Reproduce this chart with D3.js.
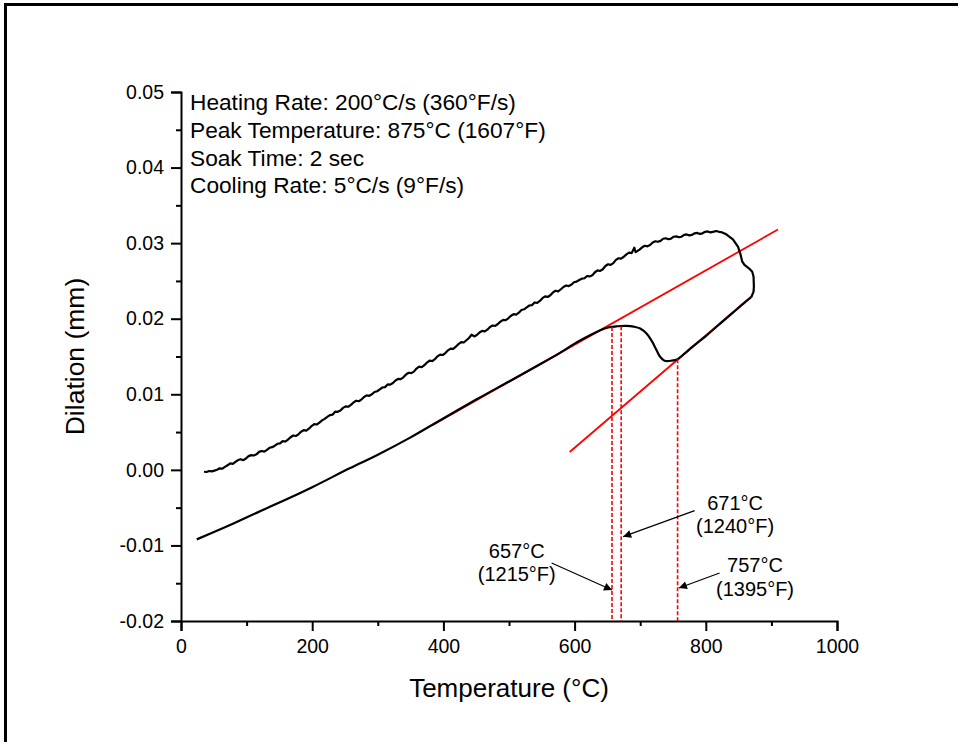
<!DOCTYPE html>
<html>
<head>
<meta charset="utf-8">
<script src="https://cdn.jsdelivr.net/npm/d3@7"></script>
<style>
  html, body { margin: 0; padding: 0; background: #fff; }
  svg { display: block; font-family: "Liberation Sans", Arial, sans-serif; }
</style>
</head>
<body>
<svg id="chart" width="962" height="742"></svg>
<script>
// Heating branch of the dilatometry trace: [temperature °C, dilation mm]
const heating = [
  [35,-0.00025],[39,-0.00028],[43,-0.00015],[47,-0.00020],[51,-0.00010],[55,0.00002],
  [59,0.00020],[63,0.00015],[67,0.00040],[71,0.00060],[75,0.00085],[79,0.00080],
  [83,0.00105],[87,0.00130],[91,0.00140],[95,0.00128],[99,0.00150],[103,0.00182],
  [107,0.00195],[111,0.00190],[115,0.00205],[119,0.00238],[123,0.00250],[127,0.00242],
  [131,0.00265],[135,0.00292],[139,0.00300],[143,0.00320],[147,0.00345],[151,0.00350],
  [155,0.00380],[159,0.00375],[163,0.00400],[167,0.00432],[171,0.00455],[175,0.00448],
  [179,0.00470],[183,0.00505],[187,0.00525],[191,0.00520],[195,0.00545],[199,0.00580],
  [203,0.00605],[207,0.00600],[211,0.00625],[215,0.00655],[219,0.00675],[223,0.00700],
  [227,0.00725],[231,0.00730],[235,0.00770],[239,0.00768],[243,0.00785],[247,0.00820],
  [251,0.00840],[255,0.00835],[259,0.00860],[263,0.00892],[267,0.00915],[271,0.00908],
  [275,0.00930],[279,0.00965],[283,0.00985],[287,0.00980],[291,0.01000],[295,0.01030],
  [299,0.01040],[303,0.01065],[307,0.01090],[311,0.01095],[315,0.01130],[319,0.01128],
  [323,0.01150],[327,0.01182],[331,0.01205],[335,0.01200],[339,0.01225],[343,0.01262],
  [347,0.01285],[351,0.01280],[355,0.01300],[359,0.01340],[363,0.01365],[367,0.01358],
  [371,0.01385],[375,0.01420],[379,0.01445],[383,0.01440],[387,0.01465],[391,0.01502],
  [395,0.01525],[399,0.01520],[403,0.01545],[407,0.01582],[411,0.01605],[415,0.01600],
  [419,0.01630],[423,0.01665],[427,0.01690],[431,0.01685],[435,0.01715],[439,0.01745],
  [443,0.01790],[447,0.01765],[451,0.01785],[455,0.01818],[459,0.01840],[463,0.01832],
  [467,0.01855],[471,0.01890],[475,0.01910],[479,0.01905],[483,0.01930],[487,0.01962],
  [491,0.01985],[495,0.01980],[499,0.02005],[503,0.02040],[507,0.02060],[511,0.02055],
  [515,0.02080],[519,0.02115],[523,0.02125],[527,0.02150],[531,0.02175],[535,0.02180],
  [539,0.02215],[543,0.02210],[547,0.02235],[551,0.02272],[555,0.02295],[559,0.02288],
  [563,0.02310],[567,0.02348],[571,0.02370],[575,0.02362],[579,0.02390],[583,0.02420],
  [587,0.02440],[591,0.02432],[595,0.02450],[599,0.02482],[603,0.02490],[607,0.02512],
  [611,0.02530],[615,0.02535],[619,0.02565],[623,0.02560],[627,0.02575],[631,0.02615],
  [635,0.02640],[639,0.02632],[643,0.02655],[647,0.02698],[651,0.02720],[655,0.02712],
  [659,0.02735],[663,0.02778],[667,0.02800],[671,0.02795],[675,0.02820],[679,0.02852],
  [683,0.02875],[687,0.02868],[691,0.02940],[693,0.02880],[699,0.02915],[703,0.02945],
  [707,0.02965],[711,0.02958],[715,0.02975],[719,0.03008],[723,0.03025],[727,0.03018],
  [731,0.03030],[735,0.03058],[739,0.03065],[743,0.03052],[747,0.03060],[751,0.03085],
  [755,0.03090],[759,0.03078],[763,0.03085],[767,0.03110],[771,0.03115],[775,0.03102],
  [779,0.03110],[783,0.03130],[787,0.03135],[791,0.03122],[795,0.03130],[799,0.03150],
  [803,0.03155],[807,0.03142],[811,0.03150],[816,0.03161],[820,0.03150],[824,0.03145],
  [831.2,0.03117],[841.3,0.03051],[849,0.02953],[852.5,0.02866],[855.6,0.02755],[859,0.02711],
  [865.7,0.02667],[870.8,0.02622],[872.8,0.02556],[873.3,0.02424],[872.8,0.02358],[869.3,0.02284]
];

// Cooling branch, from peak temperature back to room temperature
const cooling = [
  [869.3,0.02284],[860,0.0222],[840,0.0207],[820,0.0192],[800,0.0177],[780,0.0163],
  [765,0.0152],[757,0.01465],[748,0.01445],[737,0.01445],[730,0.0150],[724,0.0160],
  [718,0.0170],[710,0.0180],[700,0.0187],[690,0.01895],[679,0.01905],[665,0.0190],
  [653,0.01887],[640,0.0185],[628,0.0180],[600,0.0167],[577,0.01545],[550,0.0141],
  [500,0.0117],[450,0.0093],[384,0.0060],[350,0.0043],[300,0.0020],[257,0.0002],
  [200,-0.0023],[156,-0.0041],[130,-0.0051],[80,-0.0071],[24,-0.0092]
];

// Tangent construction lines (start, end)
const tangentHigh = [[383,0.0059],[910,0.0318]];
const tangentLow  = [[592.5,0.00237],[869,0.0229]];

// Transformation temperatures marked on the cooling branch
const transTemps   = [657, 671, 757];
const transTops    = [0.0189, 0.0190, 0.01465];
const transLabelsC = ["657°C", "671°C", "757°C"];
const transLabelsF = ["(1215°F)", "(1240°F)", "(1395°F)"];

// Test conditions
const conditions = [
  "Heating Rate: 200°C/s (360°F/s)",
  "Peak Temperature: 875°C (1607°F)",
  "Soak Time: 2 sec",
  "Cooling Rate: 5°C/s (9°F/s)"
];

const xTicks = [0, 200, 400, 600, 800, 1000];
const yTicks = [-0.02, -0.01, 0.00, 0.01, 0.02, 0.03, 0.04, 0.05];

const svg = d3.select("#chart");
const W = 962, H = 742;
const plot = { left: 181, right: 837, top: 92, bottom: 621 };

const x = d3.scaleLinear().domain([0, 1000]).range([plot.left, plot.right]);
const y = d3.scaleLinear().domain([-0.02, 0.05]).range([plot.bottom, plot.top]);

svg.append("rect").attr("width", W).attr("height", H).attr("fill", "#fff");

// outer frame
svg.append("path")
  .attr("d", `M5.5,${H} V4.5 H958`)
  .attr("fill", "none").attr("stroke", "#000").attr("stroke-width", 3);

// arrowhead
svg.append("defs").append("marker")
  .attr("id", "arrow").attr("viewBox", "0 0 10 10")
  .attr("refX", 10).attr("refY", 5)
  .attr("markerWidth", 10).attr("markerHeight", 8)
  .attr("markerUnits", "userSpaceOnUse")
  .attr("orient", "auto")
  .append("path").attr("d", "M0,0 L10,5 L0,10 Z").attr("fill", "#000");

// axes
const xMinor = d3.range(100, 1000, 200);
const yMinor = d3.range(-0.015, 0.05, 0.01);
const yFmt = d => d3.format(".2f")(d).replace("\u2212", "-");

svg.append("g").attr("transform", `translate(0,${plot.bottom})`)
  .call(d3.axisBottom(x).tickValues(xTicks).tickFormat(d3.format("d"))
    .tickSize(10).tickPadding(8));
svg.append("g").attr("transform", `translate(0,${plot.bottom})`)
  .call(d3.axisBottom(x).tickValues(xMinor).tickFormat("").tickSize(5))
  .select(".domain").remove();

svg.append("g").attr("transform", `translate(${plot.left},0)`)
  .call(d3.axisLeft(y).tickValues(yTicks).tickFormat(yFmt)
    .tickSize(10).tickPadding(7));
svg.append("g").attr("transform", `translate(${plot.left},0)`)
  .call(d3.axisLeft(y).tickValues(yMinor).tickFormat("").tickSize(5))
  .select(".domain").remove();

svg.selectAll(".domain").attr("stroke", "#000").attr("stroke-width", 2);
svg.selectAll(".tick line").attr("stroke", "#000").attr("stroke-width", 2);
svg.selectAll(".tick text").attr("fill", "#000")
  .style("font-family", "'Liberation Sans', Arial, sans-serif")
  .style("font-size", "19.5px");

// axis titles
svg.append("text")
  .attr("x", (plot.left + plot.right) / 2).attr("y", 697)
  .attr("text-anchor", "middle").style("font-size", "26px")
  .text("Temperature (°C)");
svg.append("text")
  .attr("transform", `translate(84,356.5) rotate(-90)`)
  .attr("text-anchor", "middle").style("font-size", "26.5px")
  .text("Dilation (mm)");

const line = d3.line().x(d => x(d[0])).y(d => y(d[1]));

// tangent lines
[tangentHigh, tangentLow].forEach(t => {
  svg.append("path").attr("d", line(t))
    .attr("fill", "none").attr("stroke", "#ff0000").attr("stroke-width", 1.8);
});

// dilation curves
svg.append("path").datum(heating).attr("d", line)
  .attr("fill", "none").attr("stroke", "#000").attr("stroke-width", 2.2)
  .attr("stroke-linejoin", "round");
svg.append("path").datum(cooling)
  .attr("d", d3.line().x(d => x(d[0])).y(d => y(d[1])).curve(d3.curveCatmullRom.alpha(0.5)))
  .attr("fill", "none").attr("stroke", "#000").attr("stroke-width", 2.2)
  .attr("stroke-linejoin", "round");

// transformation markers
transTemps.forEach((t, i) => {
  svg.append("line")
    .attr("x1", x(t)).attr("x2", x(t))
    .attr("y1", y(transTops[i])).attr("y2", y(-0.02))
    .attr("stroke", "#ff0000").attr("stroke-width", 1.6)
    .attr("stroke-dasharray", "4,2");
});

// callouts: label centre (T, D of first baseline), arrow tail and tip
const callouts = [
  { label: [511.8, -0.01166], tail: [565, -0.01233], tip: [657, -0.0159] },
  { label: [844.6, -0.00531], tail: [783, -0.0054],  tip: [674, -0.00884] },
  { label: [875,   -0.01352], tail: [821, -0.01365], tip: [759, -0.01563] }
];
callouts.forEach((c, i) => {
  const tx = svg.append("text").attr("text-anchor", "middle").style("font-size", "20px");
  tx.append("tspan").attr("x", x(c.label[0])).attr("y", y(c.label[1])).text(transLabelsC[i]);
  tx.append("tspan").attr("x", x(c.label[0])).attr("dy", 23.5).text(transLabelsF[i]);
  svg.append("line")
    .attr("x1", x(c.tail[0])).attr("y1", y(c.tail[1]))
    .attr("x2", x(c.tip[0])).attr("y2", y(c.tip[1]))
    .attr("stroke", "#000").attr("stroke-width", 1.2)
    .attr("marker-end", "url(#arrow)");
});

// test conditions block
const cond = svg.append("text").style("font-size", "22.7px");
conditions.forEach((s, i) => {
  cond.append("tspan").attr("x", 190).attr("y", 110 + i * 27.8).text(s);
});
</script>
</body>
</html>
